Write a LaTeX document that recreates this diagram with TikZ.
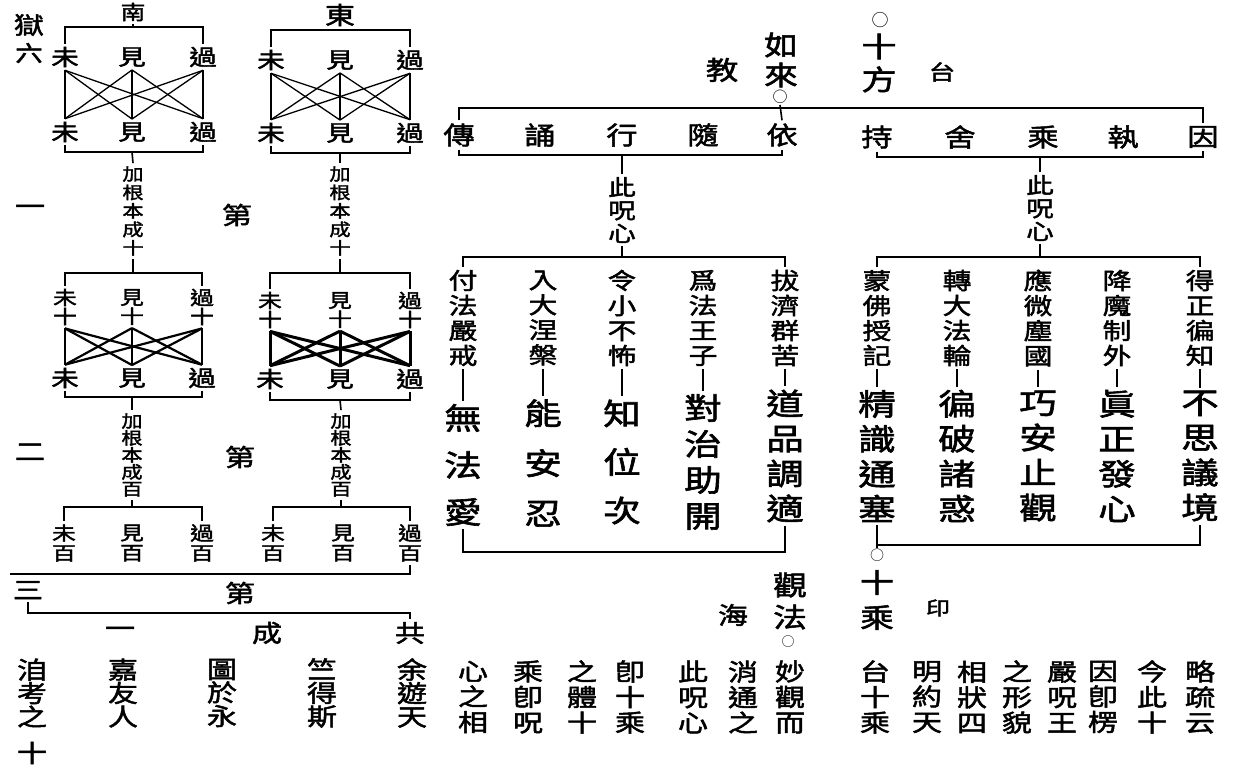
\documentclass[tikz,border=0pt]{standalone}
\usepackage{fontspec}
\newfontfamily\cjk{Noto Sans CJK TC}[FakeStretch=1.25,FakeBold=2]
\newfontfamily\cjkplain{Noto Sans CJK TC}
\usetikzlibrary{positioning}

\begin{document}
\begin{tikzpicture}[
		x=1pt, y=-1pt,
		zi/.style={
			font=\cjk\fontsize{#1}{#1}\selectfont,
			inner sep=3pt
			},
		zi/.default=22,
		col/.style 2 args={
			align=center,
			font=\cjk\fontsize{#1}{#2}\selectfont,
			inner sep=3pt
			},
		quan/.style={
			font=\cjkplain\fontsize{#1}{#1}\selectfont,
			inner sep=1pt
			},
		line/.style={
			draw,
			line width=1.6pt
			}]
	    \fill [white] (0,0) rectangle (1241,773);
	    \useasboundingbox (0,0) rectangle (1241,773);

	    % Place nodes: left boxes
	    \node [zi=24] (yu) at (29,25) {獄};
	    \node [zi, below of=yu, node distance=28pt] (liu) {六};
	    \node [zi=20] (nan) at (133,12) {南};
	    \node [zi] (wei1t) at (65,57) {未};
	    \node [zi] (jian1t) at (132,57) {見};
	    \node [zi] (guo1t) at (203,57) {過};
	    \node [zi, below of=wei1t, node distance=75pt] (wei1b) {未};
	    \node [zi, below of=jian1t, node distance=75pt] (jian1b) {見};
	    \node [zi, below of=guo1t, node distance=75pt] (guo1b) {過};
	    \node [col={17}{18.5}] (gen1) at (133,211) {加\\根\\本\\成\\十};

	    \node [zi=24] (dong) at (340,15) {東};
	    \node [zi] (wei2t) at (271,60) {未};
	    \node [zi] (jian2t) at (340,60) {見};
	    \node [zi] (guo2t) at (410,60) {過};
	    \node [zi, below of=wei2t, node distance=73pt] (wei2b) {未};
	    \node [zi, below of=jian2t, node distance=73pt] (jian2b) {見};
	    \node [zi, below of=guo2t, node distance=73pt] (guo2b) {過};
	    \node [col={17}{18.5}] (gen2) at (340,211) {加\\根\\本\\成\\十};

	    \node [zi=24] (yi1) at (30,210) {一};
	    \node [zi=24] (di1) at (237,215) {第};

	    \node [col={19}{19}] (wei3t) at (65,307) {未\\十};
	    \node [col={19}{19}] (jian3t) at (132,307) {見\\十};
	    \node [col={19}{19}] (guo3t) at (202,307) {過\\十};
	    \node [zi, below of=wei3t, node distance=71pt] (wei3b) {未};
	    \node [zi, below of=jian3t, node distance=71pt] (jian3b) {見};
	    \node [zi, below of=guo3t, node distance=71pt] (guo3b) {過};
	    \node [col={17}{17}] (gen3) at (132,455) {加\\根\\本\\成\\百};

	    \node [col={19}{19}] (wei4t) at (270,310) {未\\十};
	    \node [col={19}{19}] (jian4t) at (340,310) {見\\十};
	    \node [col={19}{19}] (guo4t) at (410,310) {過\\十};
	    \node [zi, below of=wei4t, node distance=69pt] (wei4b) {未};
	    \node [zi, below of=jian4t, node distance=69pt] (jian4b) {見};
	    \node [zi, below of=guo4t, node distance=69pt] (guo4b) {過};
	    \node [col={17}{17}] (gen4) at (341,455) {加\\根\\本\\成\\百};

	    \node [zi=24] (er) at (30,452) {二};
	    \node [zi=24] (di2) at (240,457) {第};

	    \node [col={19}{20}] (wei5) at (64,543) {未\\百};
	    \node [col={19}{20}] (jian5) at (132,543) {見\\百};
	    \node [col={19}{20}] (guo5) at (202,543) {過\\百};
	    \node [col={19}{20}] (wei6) at (273,543) {未\\百};
	    \node [col={19}{20}] (jian6) at (343,543) {見\\百};
	    \node [col={19}{20}] (guo6) at (410,543) {過\\百};

	    \node [zi=24] (san) at (28,590) {三};
	    \node [zi=24] (di3) at (240,593) {第};
	    \node [zi=24] (yi3) at (120,632) {一};
	    \node [zi=24] (chengzi) at (267,633) {成};
	    \node [zi=24] (gong) at (410,633) {共};

	    \node [col={24}{23.5}] (ji) at (32,693) {洎\\考\\之};
	    \node [col={24}{23.5}] (jia) at (123,693) {嘉\\友\\人};
	    \node [col={24}{23.5}] (tu) at (222,693) {圖\\於\\永};
	    \node [col={24}{23.5}] (zhu) at (322,693) {竺\\得\\斯};
	    \node [col={24}{23.5}] (yu2) at (412,693) {余\\遊\\天};
	    \node [zi=24] (shi) at (32,753) {十};

	    \coordinate (b1top) at (0,27);
	    \coordinate (b1bot) at (0,152);
	    \coordinate (b2top) at (0,30);
	    \coordinate (b2bot) at (0,153);
	    \coordinate (b3top) at (0,273);
	    \coordinate (b3bot) at (0,397);
	    \coordinate (b4top) at (0,273);
	    \coordinate (b4bot) at (0,400);
	    \coordinate (br1) at (0,507);
	    \coordinate (br2) at (0,507);
	    \coordinate (longl) at (10,574);
	    \coordinate (sanbend) at (410,613);

	    % Place nodes: ten causes
	    \node [col={27}{30}] (rulai) at (781,60) {如\\來};
	    \node [quan=15] (o1) at (780,97) {○};
	    \node [zi=26] (jiao) at (722,70) {教};
	    \node [quan=17] (o2) at (880,20) {○};
	    \node [col={28}{33}] (shifang) at (879,63) {十\\方};
	    \node [zi=21] (tai) at (942,72) {台};

	    \node [zi=25] (chuan) at (459,135) {傳};
	    \node [zi=25] (song) at (540,135) {誦};
	    \node [zi=25] (xing) at (622,135) {行};
	    \node [zi=25] (sui) at (703,135) {隨};
	    \node [zi=25] (yi) at (782,135) {依};
	    \node [zi=25] (chi) at (877,137) {持};
	    \node [zi=25] (she) at (960,137) {舍};
	    \node [zi=25] (cheng) at (1043,137) {乘};
	    \node [zi=25] (zhi) at (1123,137) {執};
	    \node [zi=25] (yin) at (1203,137) {因};

	    \node [col={22}{23}] (zhou1) at (622,210) {此\\呪\\心};
	    \node [col={22}{23}] (zhou2) at (1040,208) {此\\呪\\心};

	    \node [col={23}{25}] (fuTop) at (463,318) {付\\法\\嚴\\戒};
	    \node [col={23}{25}] (ruTop) at (543,318) {入\\大\\涅\\槃};
	    \node [col={23}{25}] (lingTop) at (622,318) {令\\小\\不\\怖};
	    \node [col={23}{25}] (weiTop) at (703,318) {爲\\法\\王\\子};
	    \node [col={23}{25}] (baTop) at (785,318) {拔\\濟\\群\\苦};
	    \node [col={30}{47}] (wuBot) at (463,465) {無\\法\\愛};
	    \node [col={30}{50}] (nengBot) at (543,463) {能\\安\\忍};
	    \node [col={30}{48.5}] (zhiBot) at (622,462) {知\\位\\次};
	    \node [col={30}{36}] (duiBot) at (703,462) {對\\治\\助\\開};
	    \node [col={30}{35}] (daoBot) at (785,456) {道\\品\\調\\適};

	    \node [col={23}{25}] (mengTop) at (877,318) {蒙\\佛\\授\\記};
	    \node [col={23}{25}] (zhuanTop) at (957,318) {轉\\大\\法\\輪};
	    \node [col={23}{25}] (yingTop) at (1038,318) {應\\微\\塵\\國};
	    \node [col={23}{25}] (xiangTop) at (1117,318) {降\\魔\\制\\外};
	    \node [col={23}{25}] (deTop) at (1200,318) {得\\正\\徧\\知};
	    \node [col={30}{35}] (jingBot) at (877,456) {精\\識\\通\\塞};
	    \node [col={30}{35}] (bianBot) at (957,456) {徧\\破\\諸\\惑};
	    \node [col={30}{35}] (qiaoBot) at (1038,456) {巧\\安\\止\\觀};
	    \node [col={30}{35}] (zhenBot) at (1117,456) {眞\\正\\發\\心};
	    \node [col={30}{35}] (buBot) at (1200,456) {不\\思\\議\\境};

	    \node [quan=14] (o3) at (877,555) {○};
	    \node [col={27}{35}] (shicheng) at (877,600) {十\\乘};
	    \node [zi=19] (yinzi) at (938,608) {印};
	    \node [col={27}{32}] (guanfa) at (790,601) {觀\\法};
	    \node [quan=13] (o4) at (788,642) {○};
	    \node [zi=24] (hai) at (733,615) {海};

	    \node [col={24}{25.5}] (t1) at (473,697) {心\\之\\相};
	    \node [col={24}{25.5}] (t2) at (528,697) {乘\\卽\\呪};
	    \node [col={24}{25.5}] (t3) at (582,697) {之\\體\\十};
	    \node [col={24}{25.5}] (t4) at (630,697) {卽\\十\\乘};
	    \node [col={24}{25.5}] (t5) at (693,697) {此\\呪\\心};
	    \node [col={24}{25.5}] (t6) at (743,697) {消\\通\\之};
	    \node [col={24}{25.5}] (t7) at (790,697) {妙\\觀\\而};
	    \node [col={24}{25.5}] (t8) at (875,697) {台\\十\\乘};
	    \node [col={24}{25.5}] (t9) at (927,697) {明\\約\\天};
	    \node [col={24}{25.5}] (t10) at (972,697) {相\\狀\\四};
	    \node [col={24}{25.5}] (t11) at (1017,697) {之\\形\\貌};
	    \node [col={24}{25.5}] (t12) at (1062,697) {嚴\\呪\\王};
	    \node [col={24}{25.5}] (t13) at (1103,697) {因\\卽\\楞};
	    \node [col={24}{25.5}] (t14) at (1152,697) {今\\此\\十};
	    \node [col={24}{25.5}] (t15) at (1200,697) {略\\疏\\云};

	    \coordinate (ttop) at (0,108);
	    \coordinate (lbot) at (0,155);
	    \coordinate (rbot) at (0,157);
	    \coordinate (mtop) at (0,257);
	    \coordinate (mbot) at (0,552);
	    \coordinate (rbot2) at (0,545);

	    % Draw edges: left boxes
	    \path [line] (nan.south) -- (nan.south |- b1top);
	    \path [line] (wei1t.north) |- (b1top -| guo1t.north) -- (guo1t.north);
	    \foreach \t in {wei1t,jian1t,guo1t}
	    	\foreach \b in {wei1b,jian1b,guo1b}
	    		\path [line, line width=1.3pt] (\t.south) -- (\b.north);
	    \path [line] (wei1b.south) |- (b1bot -| guo1b.south) -- (guo1b.south);
	    \path [line] (jian1b.south |- b1bot) -- (gen1.north);

	    \path [line] (dong.south) -- (dong.south |- b2top);
	    \path [line] (wei2t.north) |- (b2top -| guo2t.north) -- (guo2t.north);
	    \foreach \t in {wei2t,jian2t,guo2t}
	    	\foreach \b in {wei2b,jian2b,guo2b}
	    		\path [line, line width=1.3pt] (\t.south) -- (\b.north);
	    \path [line] (wei2b.south) |- (b2bot -| guo2b.south) -- (guo2b.south);
	    \path [line] (jian2b.south |- b2bot) -- (gen2.north);

	    \path [line] (gen1.south) -- (gen1.south |- b3top);
	    \path [line] (wei3t.north) |- (b3top -| guo3t.north) -- (guo3t.north);
	    \foreach \t in {wei3t,jian3t,guo3t}
	    	\foreach \b in {wei3b,jian3b,guo3b}
	    		\path [line, line width=2.2pt] (\t.south) -- (\b.north);
	    \path [line] (wei3b.south) |- (b3bot -| guo3b.south) -- (guo3b.south);
	    \path [line] (jian3b.south |- b3bot) -- (gen3.north);

	    \path [line] (gen2.south) -- (gen2.south |- b4top);
	    \path [line] (wei4t.north) |- (b4top -| guo4t.north) -- (guo4t.north);
	    \foreach \t in {wei4t,jian4t,guo4t}
	    	\foreach \b in {wei4b,jian4b,guo4b}
	    		\path [line, line width=3pt] (\t.south) -- (\b.north);
	    \path [line] (wei4b.south) |- (b4bot -| guo4b.south) -- (guo4b.south);
	    \path [line] (jian4b.south |- b4bot) -- (gen4.north);

	    \path [line] (gen3.south) -- (gen3.south |- br1);
	    \path [line] (wei5.north) |- (br1 -| guo5.north) -- (guo5.north);
	    \path [line] (gen4.south) -- (gen4.south |- br2);
	    \path [line] (wei6.north) |- (br2 -| guo6.north) -- (guo6.north);
	    \path [line] (longl) -| (guo6.south);
	    \path [line] (san.south) |- (sanbend) -- (gong.north);

	    % Draw edges: ten causes
	    \path [line] (chuan.north) |- (ttop -| yin.north) -- (yin.north);
	    \path [line] (chuan.south) |- (lbot -| yi.south) -- (yi.south);
	    \path [line] (chi.south) |- (rbot -| yin.south) -- (yin.south);
	    \path [line] (o1.south) -- (yi.north);
	    \path [line] (zhou1.north |- lbot) -- (zhou1.north);
	    \path [line] (zhou2.north |- rbot) -- (zhou2.north);
	    \path [line] (zhou1.south) -- (zhou1.south |- mtop);
	    \path [line] (zhou2.south) -- (zhou2.south |- mtop);
	    \path [line] (fuTop.north) |- (mtop -| baTop.north) -- (baTop.north);
	    \path [line] (mengTop.north) |- (mtop -| deTop.north) -- (deTop.north);
	    \foreach \a/\b in {fuTop/wuBot, ruTop/nengBot, lingTop/zhiBot, weiTop/duiBot, baTop/daoBot,
	    		mengTop/jingBot, zhuanTop/bianBot, yingTop/qiaoBot, xiangTop/zhenBot, deTop/buBot}
	    	\path [line] (\a.south) -- (\b.north);
	    \path [line] (wuBot.south) |- (mbot -| daoBot.south) -- (daoBot.south);
	    \path [line] (jingBot.south) -- (o3.north);
	    \path [line] (jingBot.south |- rbot2) -| (buBot.south);
	\end{tikzpicture}
\end{document}
